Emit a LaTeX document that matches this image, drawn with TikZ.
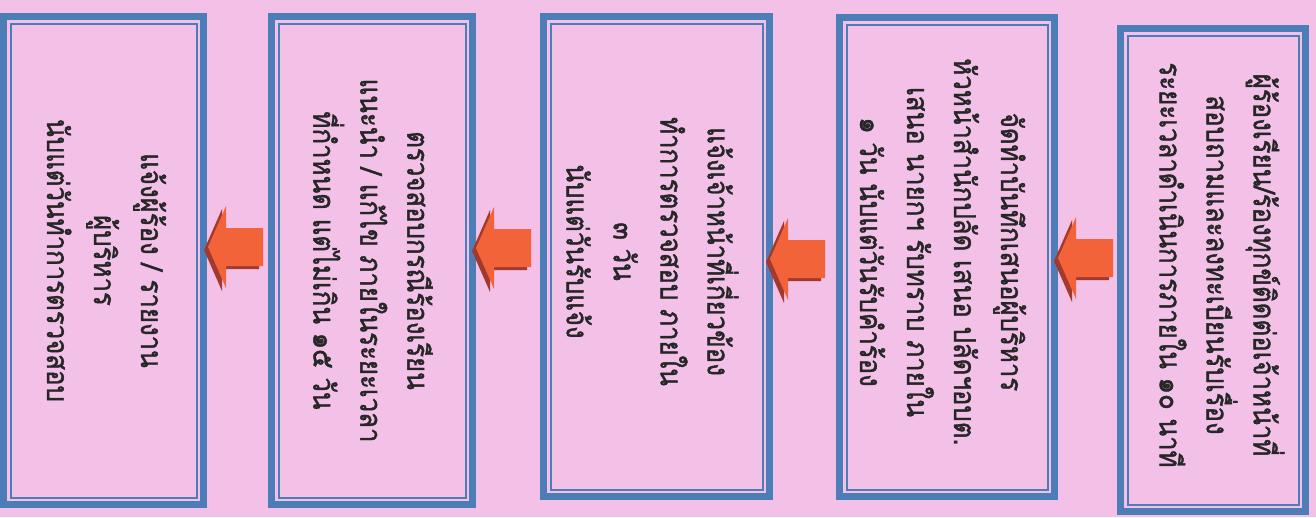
\documentclass[tikz,border=0pt]{standalone}
\usepackage{fontspec}
\newfontfamily\thai[Script=Thai,FakeStretch=0.86,FakeBold=1.3]{Loma}
\definecolor{bgpink}{HTML}{F3C1E8}
\definecolor{bordblue}{HTML}{4C7DB6}
\definecolor{arroworange}{HTML}{F2633A}
\definecolor{arrowdark}{HTML}{A3392C}
\begin{document}
\begin{tikzpicture}[x=1pt,y=-1pt,
  stepbox/.style={draw=bordblue, line width=7pt, fill=bgpink, inner sep=0pt},
  innerline/.style={draw=bordblue, line width=2pt},
  steptext/.style={rotate=-90, align=center, font=\thai\fontsize{30}{47}\selectfont, text=black!85, inner sep=0pt},
  blockarrow/.pic={
    \fill[arrowdark] (-4,3) -- ++(18,-41) -- ++(0,22) -- ++(37,0) -- ++(0,38) -- ++(-37,0) -- ++(0,22) -- cycle;
    \fill[arroworange] (0,0) -- ++(18,-41) -- ++(0,22) -- ++(37,0) -- ++(0,38) -- ++(-37,0) -- ++(0,22) -- cycle;
  }]
\fill[bgpink] (0,0) rectangle (1316,517);
\useasboundingbox (0,0) rectangle (1316,517);

% boxes
\node[stepbox, minimum width=185pt, minimum height=483pt] (b1) at (1213,270) {};
\node[stepbox, minimum width=215pt, minimum height=479pt] (b2) at (947,257) {};
\node[stepbox, minimum width=226pt, minimum height=480pt] (b3) at (656.5,256.5) {};
\node[stepbox, minimum width=201pt, minimum height=488pt] (b4) at (372,260.5) {};
\node[stepbox, minimum width=200pt, minimum height=488pt] (b5) at (103.5,260.5) {};
\foreach \b in {b1,b2,b3,b4,b5}{
  \draw[innerline] ([shift={(10.5,10.5)}]\b.north west) rectangle ([shift={(-10.5,-10.5)}]\b.south east);
}

% texts
\node[steptext] (t1) at ([shift={(9,-5)}]b1.center) {ผู้ร้องเรียน/ร้องทุกข์ติดต่อเจ้าหน้าที่\\สอบถามและลงทะเบียนรับเรื่อง\\ระยะเวลาดำเนินการภายใน ๑๐ นาที};
\node[steptext] (t2) at ([shift={(-4,-5)}]b2.center) {จัดทำบันทึกเสนอผู้บริหาร\\หัวหน้าสำนักปลัด เสนอ ปลัดฯอบต.\\เสนอ นายกฯ รับทราบ ภายใน\\๑ วัน นับแต่วันรับคำร้อง};
\node[steptext] (t3) at ([shift={(-4,-5)}]b3.center) {แจ้งเจ้าหน้าที่เกี่ยวข้อง\\ทำการตรวจสอบ ภายใน\\๓ วัน\\นับแต่วันรับแจ้ง};
\node[steptext] (t4) at ([shift={(1,0)}]b4.center) {ตรวจสอบกรณีร้องเรียน\\แนะนำ / แก้ไข ภายในระยะเวลา\\ที่กำหนด แต่ไม่เกิน ๑๕ วัน};
\node[steptext] (t5) at ([shift={(3,0)}]b5.center) {แจ้งผู้ร้อง / รายงาน\\ผู้บริหาร\\นับแต่วันทำการตรวจสอบ};

% block arrows between consecutive steps
\pic at (1058,258) {blockarrow};
\pic at (770,259) {blockarrow};
\pic at (476,248) {blockarrow};
\pic at (208,247) {blockarrow};
\end{tikzpicture}
\end{document}
